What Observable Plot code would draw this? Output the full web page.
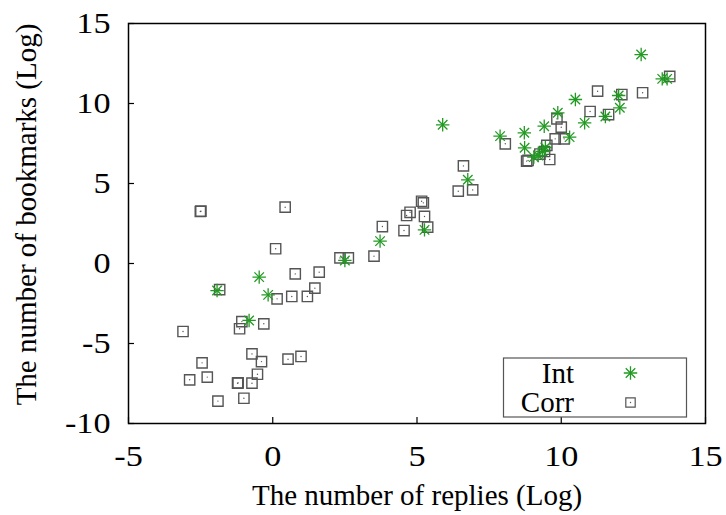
<!DOCTYPE html>
<html><head><meta charset="utf-8">
<script src="https://cdn.jsdelivr.net/npm/d3@7"></script>
<script src="https://cdn.jsdelivr.net/npm/@observablehq/plot@0.6"></script>
<style>
body{margin:0;background:#fff}
#chart{position:relative;width:726px;height:515px}
svg, svg text{font-family:"Liberation Serif","Times New Roman",Times,serif !important}
</style>
</head><body><div id="chart"></div>
<script>
// Int series
const intX = [12.77, 13.5, 13.67, 11.99, 12.03, 11.53, 10.49, 10.81, 9.88, 9.41, 10.29, 8.72, 7.88, 8.73, 9.05, 9.2, 9.35, 9.45, 5.89, 6.76, 5.26, 3.72, 2.5, -0.47, -0.16, -1.93, -0.82];
const intY = [13.06, 11.54, 11.54, 10.5, 9.73, 9.19, 10.25, 8.79, 9.42, 8.58, 7.9, 8.17, 7.96, 7.23, 6.65, 6.75, 7.0, 7.25, 8.67, 5.23, 2.1, 1.4, 0.19, -0.85, -1.96, -1.69, -3.56];
// Corr series
const corrX = [13.76, 11.26, 12.82, 12.1, 11.0, 11.64, 9.85, 10.0, 9.79, 10.1, 9.5, 9.26, 9.42, 8.85, 8.8, 9.6, 8.06, 6.61, 6.43, 6.93, 5.16, 5.22, 5.26, 4.76, 4.64, 3.8, 4.55, 5.37, 3.51, 2.33, 2.62, 0.1, 0.43, -2.51, -2.49, 0.78, 1.61, 1.46, 1.2, 0.66, 0.15, -1.84, -1.07, -1.15, -0.31, -3.11, -2.45, -2.88, -2.27, -1.9, -1.22, -1.2, -1.0, -0.72, -0.72, -0.39, -0.53, 0.53, 0.98];
const corrY = [11.69, 10.77, 10.67, 10.56, 9.5, 9.31, 9.04, 8.52, 7.79, 7.79, 7.38, 6.84, 7.0, 6.44, 6.4, 6.5, 7.48, 6.1, 4.52, 4.6, 3.89, 3.79, 2.94, 3.2, 3.0, 2.31, 2.06, 2.27, 0.46, 0.35, 0.35, 0.92, 3.52, 3.25, 3.27, -0.65, -0.54, -1.54, -2.06, -2.06, -2.21, -1.63, -3.63, -4.08, -3.77, -4.25, -6.21, -7.27, -7.1, -8.6, -7.48, -7.46, -8.42, -7.48, -5.65, -6.13, -6.92, -5.98, -5.81];
const xTicks = [-5, 0, 5, 10, 15];
const yTicks = [-10, -5, 0, 5, 10, 15];
const seriesNames = ["Int", "Corr"];
const xTitle = "The number of replies (Log)";
const yTitle = "The number of bookmarks (Log)";

const intData = intX.map((x, i) => ({x, y: intY[i]}));
const corrData = corrX.map((x, i) => ({x, y: corrY[i]}));
const green = "#229a22";
const gray = "#555";
const fontStack = '"Liberation Serif","Times New Roman",Times,serif';
const fmt = d => String(d);

const chart = Plot.plot({
  width: 726, height: 515,
  marginLeft: 128, marginRight: 21, marginTop: 23, marginBottom: 92,
  style: {fontFamily: fontStack, fontSize: "29px", color: "#000", background: "#fff"},
  x: {domain: [-5, 15]},
  y: {domain: [-10, 15]},
  marks: [
    Plot.axisX(xTicks, {tickSize: 0, tickPadding: 22, fontSize: 29, tickFormat: fmt, label: xTitle, labelArrow: "none", labelAnchor: "center", labelOffset: 81}),
    Plot.axisY(yTicks, {tickSize: 0, tickPadding: 18, fontSize: 29, tickFormat: fmt, label: yTitle, labelArrow: "none", labelAnchor: "center", labelOffset: 113}),
    Plot.axisX(xTicks, {tickSize: -6, tickFormat: () => "", label: null, strokeWidth: 1.2}),
    Plot.axisY(yTicks, {tickSize: -6, tickFormat: () => "", label: null, strokeWidth: 1.2}),
    Plot.dot(corrData, {x: "x", y: "y", symbol: "square", r: 5.8, stroke: gray, strokeWidth: 1.4, fill: "none"}),
    Plot.dot(corrData, {x: "x", y: "y", r: 0.7, fill: gray, stroke: "none"}),
    Plot.dot(intData, {x: "x", y: "y", symbol: "plus", r: 4.4, stroke: green, strokeWidth: 1.3}),
    Plot.dot(intData, {x: "x", y: "y", symbol: "times", r: 4.4, stroke: green, strokeWidth: 1.3}),
    Plot.frame({stroke: "#000", strokeWidth: 1.5})
  ]
});

const svg = d3.select(chart);
svg.selectAll("g[aria-label='x-axis tick label'] text, g[aria-label='y-axis tick label'] text")
  .attr("transform", function() { return (this.getAttribute("transform") || "") + " scale(1.18,1)"; });
// nudge the y title slightly upward, as in the reference
svg.selectAll("g[aria-label='y-axis label'] text")
  .attr("transform", function() { return (this.getAttribute("transform") || "") + " translate(9,0)"; });

// legend box (bottom-right inside frame)
const lg = svg.append("g").attr("font-family", fontStack).attr("font-size", 29);
lg.append("rect").attr("x", 503.5).attr("y", 358).attr("width", 183).attr("height", 59)
  .attr("fill", "#fff").attr("stroke", gray).attr("stroke-width", 1.2);
const rows = [{y: 373, name: seriesNames[0]}, {y: 402.5, name: seriesNames[1]}];
rows.forEach((r, i) => {
  lg.append("text").attr("x", 574).attr("y", r.y).attr("dy", "0.33em").attr("text-anchor", "end").text(r.name);
  const g = lg.append("g").attr("transform", `translate(630.5,${r.y})`);
  if (i === 0) {
    const sz = Math.PI * 4.4 * 4.4;
    g.append("path").attr("d", d3.symbol(d3.symbolPlus, sz)()).attr("stroke", green).attr("stroke-width", 1.3).attr("fill", "none");
    g.append("path").attr("d", d3.symbol(d3.symbolTimes, sz)()).attr("stroke", green).attr("stroke-width", 1.3).attr("fill", "none");
  } else {
    g.append("path").attr("d", d3.symbol(d3.symbolSquare, Math.PI * 5.3 * 5.3)()).attr("stroke", gray).attr("stroke-width", 1.2).attr("fill", "none");
    g.append("circle").attr("r", 0.7).attr("fill", gray);
  }
});

document.getElementById("chart").appendChild(chart);
</script>
</body></html>
